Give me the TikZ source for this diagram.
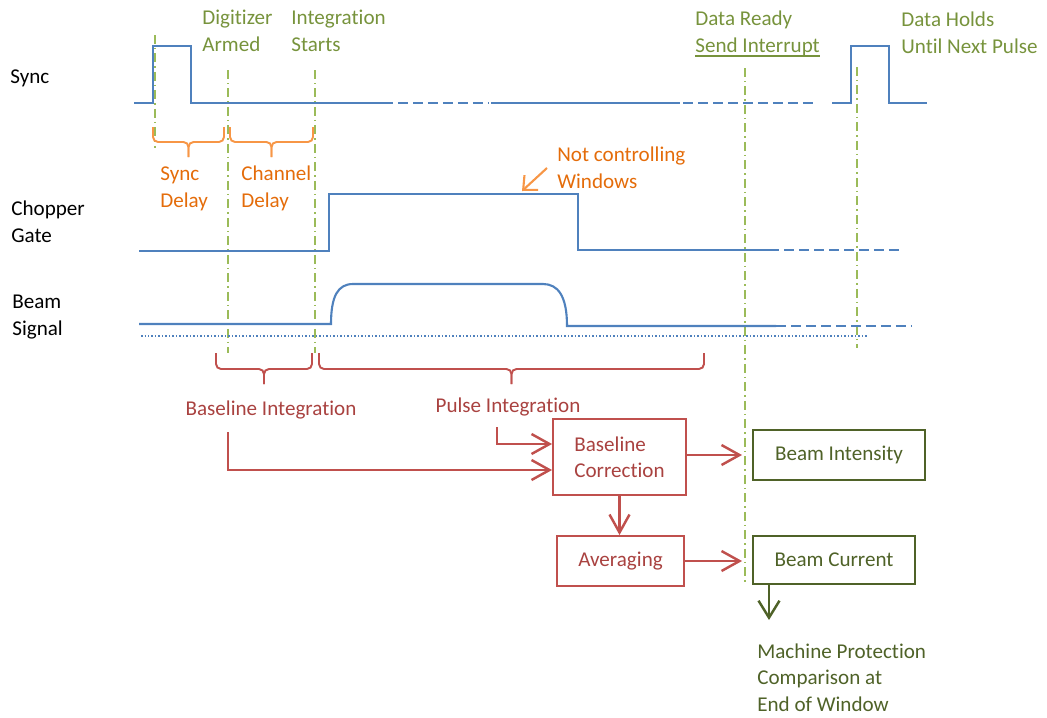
\documentclass[tikz,border=0pt]{standalone}
\usepackage{fontspec}
\setmainfont{Carlito}[Ligatures=NoCommon]
\usetikzlibrary{arrows.meta}
\definecolor{waveblue}{HTML}{4F81BD}
\definecolor{markgreen}{HTML}{9BBB59}
\definecolor{labelgreen}{HTML}{77933C}
\definecolor{darkgreen}{HTML}{4F6228}
\definecolor{braceorange}{HTML}{F79646}
\definecolor{textorange}{HTML}{E46C0A}
\definecolor{linered}{HTML}{C0504D}
\definecolor{textred}{HTML}{A94240}

\begin{document}
\begin{tikzpicture}[x=0.02cm,y=-0.02cm,
    every node/.style={font=\fontsize{12}{15}\selectfont,inner sep=0pt,align=left},
    wave/.style={waveblue,line width=1.2pt},
    wavedash/.style={wave,dash pattern=on 0.2cm off 0.1cm},
    marker/.style={markgreen,line width=1.1pt,dash pattern=on 0.18cm off 0.08cm on 0.03cm off 0.08cm},
    orangebrace/.style={braceorange,line width=1.1pt,rounded corners=0.1cm},
    redbrace/.style={linered,line width=1.1pt,rounded corners=0.1cm},
    flowbox/.style={draw=linered,line width=1.1pt,text=textred},
    outbox/.style={draw=darkgreen,line width=1.1pt,text=darkgreen},
    redarrow/.style={linered,line width=1.4pt,-{Straight Barb[length=0.36cm,width=0.4cm]}},
    greenarrow/.style={darkgreen,line width=1.4pt,-{Straight Barb[length=0.34cm,width=0.42cm]}},
    orangearrow/.style={braceorange,line width=1.2pt,-{Straight Barb[length=0.22cm,width=0.4cm]}}]
    \useasboundingbox (0,0) rectangle (1047,717);
    % signal names
    \node[anchor=base west] (sync) at (10,83) {Sync};
    \node[anchor=base west] (gate) at (11,242) {Chopper\\Gate};
    \node[anchor=base west] (beam) at (12,335) {Beam\\Signal};
    % events
    \node[anchor=base west,text=labelgreen] (armed) at (202,51) {Digitizer\\Armed};
    \node[anchor=base west,text=labelgreen] (start) at (291,51) {Integration\\Starts};
    \node[anchor=base west,text=labelgreen] (ready) at (695,52) {Data Ready\\Send Interrupt};
    \draw[labelgreen,line width=1.1pt] (ready.south west) -- (ready.south east);
    \node[anchor=base west,text=labelgreen] (holds) at (901,53) {Data Holds\\Until Next Pulse};
    \draw[marker] (155,35) -- (155,148);
    \draw[marker] (228,70) -- (228,353);
    \draw[marker] (315,70) -- (315,353);
    \draw[marker] (745,68) -- (745,583);
    \draw[marker] (857,67) -- (857,348);
    % waveforms
    \draw[wave] (134,103) -- (153,103) -- (153,46) -- (191,46) -- (191,103) -- (383,103);
    \draw[wavedash] (383,103) -- (488,103);
    \draw[wave] (491,103) -- (680,103);
    \draw[wavedash] (683,103) -- (815,103);
    \draw[wave] (832,103) -- (851,103) -- (851,46) -- (889,46) -- (889,103) -- (927,103);
    \draw[wave] (139,251) -- (329,251) -- (329,194) -- (578,194) -- (578,250) -- (769,250);
    \draw[wavedash] (769,250) -- (903,250);
    \draw[wave] (139,324) -- (331,324) .. controls (331,296) and (338,284) .. (353,284) -- (543,284)
        .. controls (558,284) and (567,296) .. (567,326) -- (776,326);
    \draw[wavedash] (776,326) -- (912,326);
    \draw[waveblue,line width=0.8pt,dash pattern=on 0.03cm off 0.04cm] (141,336) -- (868,336);
    % delays
    \foreach \xa/\xb in {153/224,230/313} {
        \draw[orangebrace] (\xa,127) -- (\xa,142) -- ({(\xa+\xb)/2},142) -- ({(\xa+\xb)/2},157);
        \draw[orangebrace] (\xb,127) -- (\xb,142) -- ({(\xa+\xb)/2},142) -- ({(\xa+\xb)/2},157);
    }
    \node[anchor=base west,text=textorange] (syncdelay) at (160,207) {Sync\\Delay};
    \node[anchor=base west,text=textorange] (chandelay) at (241,207) {Channel\\Delay};
    \node[anchor=base west,text=textorange] (notctrl) at (557,188) {Not controlling\\Windows};
    \coordinate (nctail) at (547,168);
    \coordinate (nctip) at (522,191);
    \draw[orangearrow] (nctail) -- (nctip);
    % integration windows
    \foreach \xa/\xb in {216/312,319/704} {
        \draw[redbrace] (\xa,353) -- (\xa,369) -- ({(\xa+\xb)/2},369) -- ({(\xa+\xb)/2},384);
        \draw[redbrace] (\xb,353) -- (\xb,369) -- ({(\xa+\xb)/2},369) -- ({(\xa+\xb)/2},384);
    }
    \node[anchor=base,text=textred] (baseint) at (271,415) {Baseline Integration};
    \node[anchor=base,text=textred] (pulseint) at (508,412) {Pulse Integration};
    % processing
    \node[flowbox,minimum width=2.66cm,minimum height=1.52cm] (bcorr) at (619.5,457) {Baseline\\Correction};
    \node[flowbox,minimum width=2.54cm,minimum height=1cm] (avg) at (620.5,561) {Averaging};
    \node[outbox,minimum width=3.44cm,minimum height=1cm] (bint) at (839,455) {Beam Intensity};
    \node[outbox,minimum width=3.24cm,minimum height=0.96cm] (bcur) at (834,560) {Beam Current};
    \node[anchor=base west,text=darkgreen] (mprot) at (757,711) {Machine Protection\\Comparison at\\End of Window};
    \coordinate (bistart) at (228,432);
    \coordinate (pistart) at (497,427);
    \coordinate (mptip) at (769,620);
    \draw[redarrow] (bistart) |- ([yshift=-0.26cm]bcorr.west);
    \draw[redarrow] (pistart) |- ([yshift=0.26cm]bcorr.west);
    \draw[redarrow,shorten >=0.2cm] (bcorr.east |- bint.west) -- (bint.west);
    \draw[redarrow] (bcorr.south) -- (bcorr.south |- avg.north);
    \draw[redarrow,shorten >=0.2cm] (avg.east) -- (avg.east -| bcur.west);
    \draw[greenarrow] (bcur.south -| mptip) -- (mptip);
\end{tikzpicture}
\end{document}
